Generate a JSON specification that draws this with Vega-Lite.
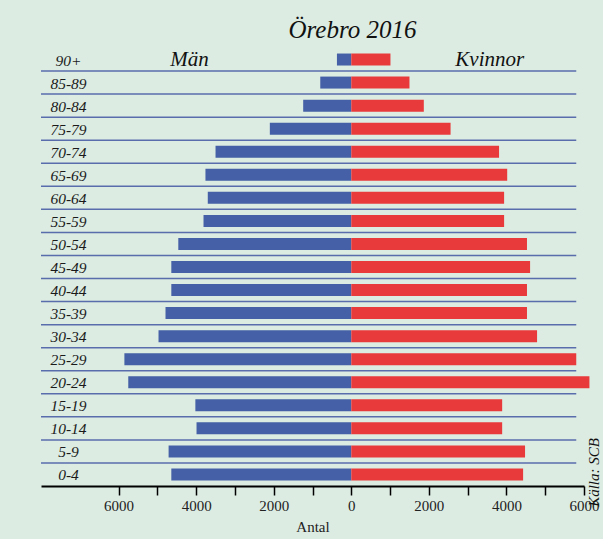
{
  "$schema": "https://vega.github.io/schema/vega-lite/v6.json",
  "autosize": {"type": "none"},
  "padding": {"left": 41, "top": 48, "right": 19, "bottom": 53},
  "width": 543,
  "height": 438,
  "background": "#dcece2",
  "title": {"text": "Örebro 2016", "font": "Liberation Serif", "fontStyle": "italic", "fontWeight": "normal", "fontSize": 25, "color": "#111111", "anchor": "middle", "dx": 40, "offset": 5},
  "config": {"view": {"stroke": null}},
  "datasets": {
    "pop": [
      {"age": "90+", "kon": "Män", "antal": -370},
      {"age": "85-89", "kon": "Män", "antal": -800},
      {"age": "80-84", "kon": "Män", "antal": -1240},
      {"age": "75-79", "kon": "Män", "antal": -2100},
      {"age": "70-74", "kon": "Män", "antal": -3500},
      {"age": "65-69", "kon": "Män", "antal": -3760},
      {"age": "60-64", "kon": "Män", "antal": -3700},
      {"age": "55-59", "kon": "Män", "antal": -3810},
      {"age": "50-54", "kon": "Män", "antal": -4460},
      {"age": "45-49", "kon": "Män", "antal": -4640},
      {"age": "40-44", "kon": "Män", "antal": -4640},
      {"age": "35-39", "kon": "Män", "antal": -4790},
      {"age": "30-34", "kon": "Män", "antal": -4970},
      {"age": "25-29", "kon": "Män", "antal": -5850},
      {"age": "20-24", "kon": "Män", "antal": -5750},
      {"age": "15-19", "kon": "Män", "antal": -4020},
      {"age": "10-14", "kon": "Män", "antal": -3990},
      {"age": "5-9", "kon": "Män", "antal": -4710},
      {"age": "0-4", "kon": "Män", "antal": -4640},
      {"age": "90+", "kon": "Kvinnor", "antal": 1010},
      {"age": "85-89", "kon": "Kvinnor", "antal": 1500},
      {"age": "80-84", "kon": "Kvinnor", "antal": 1870},
      {"age": "75-79", "kon": "Kvinnor", "antal": 2560},
      {"age": "70-74", "kon": "Kvinnor", "antal": 3810},
      {"age": "65-69", "kon": "Kvinnor", "antal": 4020},
      {"age": "60-64", "kon": "Kvinnor", "antal": 3940},
      {"age": "55-59", "kon": "Kvinnor", "antal": 3940},
      {"age": "50-54", "kon": "Kvinnor", "antal": 4530},
      {"age": "45-49", "kon": "Kvinnor", "antal": 4610},
      {"age": "40-44", "kon": "Kvinnor", "antal": 4530},
      {"age": "35-39", "kon": "Kvinnor", "antal": 4530},
      {"age": "30-34", "kon": "Kvinnor", "antal": 4790},
      {"age": "25-29", "kon": "Kvinnor", "antal": 5800},
      {"age": "20-24", "kon": "Kvinnor", "antal": 6140},
      {"age": "15-19", "kon": "Kvinnor", "antal": 3890},
      {"age": "10-14", "kon": "Kvinnor", "antal": 3890},
      {"age": "5-9", "kon": "Kvinnor", "antal": 4480},
      {"age": "0-4", "kon": "Kvinnor", "antal": 4430}
    ],
    "ages": [
      {"age": "90+"}, {"age": "85-89"}, {"age": "80-84"}, {"age": "75-79"}, {"age": "70-74"},
      {"age": "65-69"}, {"age": "60-64"}, {"age": "55-59"}, {"age": "50-54"}, {"age": "45-49"},
      {"age": "40-44"}, {"age": "35-39"}, {"age": "30-34"}, {"age": "25-29"}, {"age": "20-24"},
      {"age": "15-19"}, {"age": "10-14"}, {"age": "5-9"}, {"age": "0-4"}
    ],
    "seps": [
      {"age": "90+"}, {"age": "85-89"}, {"age": "80-84"}, {"age": "75-79"}, {"age": "70-74"},
      {"age": "65-69"}, {"age": "60-64"}, {"age": "55-59"}, {"age": "50-54"}, {"age": "45-49"},
      {"age": "40-44"}, {"age": "35-39"}, {"age": "30-34"}, {"age": "25-29"}, {"age": "20-24"},
      {"age": "15-19"}, {"age": "10-14"}, {"age": "5-9"}
    ],
    "headers": [
      {"label": "Män", "pos": -4170, "age": "90+"},
      {"label": "Kvinnor", "pos": 3570, "age": "90+"}
    ],
    "source": [
      {"label": "Källa: SCB", "pos": 6250, "age": "0-4"}
    ]
  },
  "encoding": {
    "y": {
      "field": "age", "type": "nominal",
      "scale": {"domain": ["90+", "85-89", "80-84", "75-79", "70-74", "65-69", "60-64", "55-59", "50-54", "45-49", "40-44", "35-39", "30-34", "25-29", "20-24", "15-19", "10-14", "5-9", "0-4"], "paddingInner": 0, "paddingOuter": 0},
      "axis": null
    }
  },
  "layer": [
    {
      "data": {"name": "seps"},
      "mark": {"type": "rule", "color": "#4a5fa6", "strokeWidth": 1.5, "opacity": 0.9},
      "encoding": {
        "y": {"field": "age", "type": "nominal", "bandPosition": 1},
        "x": {"datum": -8000, "type": "quantitative"},
        "x2": {"datum": 5800}
      }
    },
    {
      "data": {"name": "pop"},
      "mark": {"type": "bar", "height": {"band": 0.52}},
      "encoding": {
        "x": {
          "field": "antal", "type": "quantitative",
          "scale": {"domain": [-8000, 6000], "nice": false, "zero": false},
          "axis": {
            "values": [-6000, -5000, -4000, -3000, -2000, -1000, 0, 1000, 2000, 3000, 4000, 5000, 6000],
            "labelExpr": "datum.value % 2000 == 0 ? format(abs(datum.value), 'd') : ''",
            "labelFlush": false,
            "labelOverlap": false,
            "grid": false,
            "domainColor": "#000000", "domainWidth": 2,
            "tickColor": "#000000", "tickWidth": 1.5, "tickSize": 9,
            "labelFont": "Liberation Serif", "labelFontSize": 15, "labelColor": "#222222", "labelPadding": 3,
            "title": "Antal", "titleFont": "Liberation Serif", "titleFontSize": 15, "titleFontWeight": "normal", "titleColor": "#222222", "titlePadding": 6
          }
        },
        "color": {
          "field": "kon", "type": "nominal",
          "scale": {"domain": ["Män", "Kvinnor"], "range": ["#4560a6", "#e83a3b"]},
          "legend": null
        }
      }
    },
    {
      "data": {"name": "ages"},
      "mark": {"type": "text", "font": "Liberation Serif", "fontStyle": "italic", "fontSize": 15.5, "color": "#1a1a1a", "align": "center", "baseline": "middle", "dy": 1},
      "encoding": {
        "x": {"datum": -7290, "type": "quantitative"},
        "text": {"field": "age"}
      }
    },
    {
      "data": {"name": "headers"},
      "mark": {"type": "text", "font": "Liberation Serif", "fontStyle": "italic", "fontSize": 21, "color": "#111111", "align": "center", "baseline": "middle", "dy": 0},
      "encoding": {
        "x": {"field": "pos", "type": "quantitative"},
        "text": {"field": "label"}
      }
    },
    {
      "data": {"name": "source"},
      "mark": {"type": "text", "font": "Liberation Serif", "fontStyle": "italic", "fontSize": 15, "color": "#111111", "align": "center", "baseline": "middle", "angle": 270, "dx": 2},
      "encoding": {
        "x": {"field": "pos", "type": "quantitative"},
        "text": {"field": "label"}
      }
    },
    {
      "mark": {"type": "rule", "color": "#000000", "strokeWidth": 2.5},
      "encoding": {
        "x": {"datum": 0, "type": "quantitative"}
      }
    }
  ]
}
